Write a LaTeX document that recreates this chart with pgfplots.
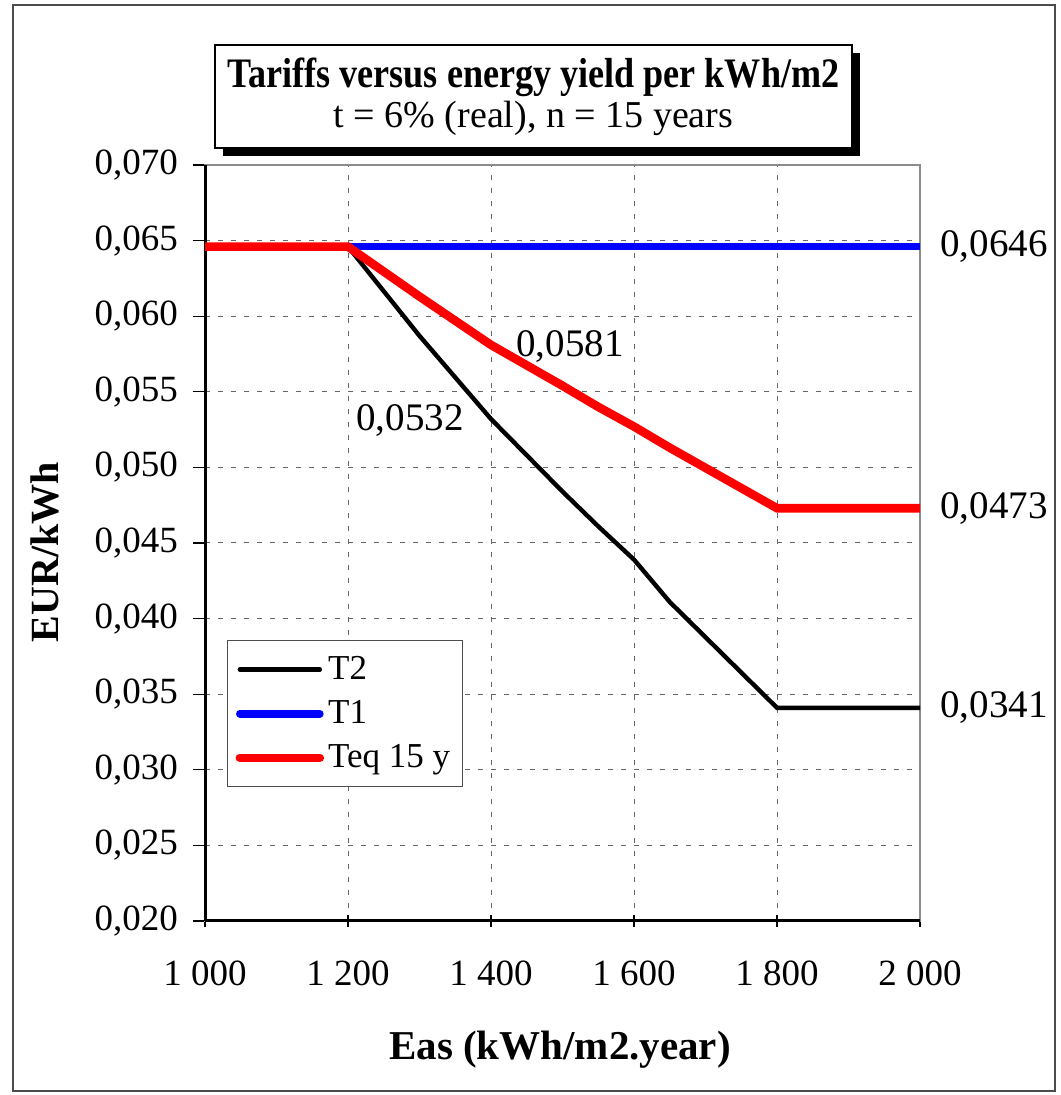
\documentclass[border=0pt]{standalone}
\usepackage{fontspec}
\setmainfont{Liberation Serif}
\newfontfamily\titlefont{Liberation Serif}[FakeStretch=0.86]
\usepackage{pgfplots}
\pgfplotsset{compat=1.18}

\pgfplotstableread{
x y
1000 0.0646
1200 0.0646
1300 0.0587
1400 0.0532
1500 0.0484
1550 0.0461
1600 0.0439
1650 0.0411
1800 0.0341
2000 0.0341
}\tTwo

\pgfplotstableread{
x y
1000 0.0646
2000 0.0646
}\tOne

\pgfplotstableread{
x y
1000 0.0646
1200 0.0646
1300 0.0613
1350 0.0597
1400 0.0581
1500 0.0554
1550 0.0540
1600 0.0527
1650 0.0513
1800 0.0473
2000 0.0473
}\tEq

\newcommand{\lab}{\fontsize{19.5}{23}\selectfont}

\begin{document}
\begin{tikzpicture}[x=1pt,y=1pt]
\useasboundingbox (0,0) rectangle (530,547.5);
\draw[black!70, line width=0.6pt] (6.5,2) rectangle (527.5,545);

% title box with shadow
\fill[black] (111.5,469.5) rectangle (430,521);
\draw[fill=white, line width=1pt] (107.5,473.5) rectangle (426,525);
\node[font=\titlefont\fontsize{21}{24}\selectfont\bfseries] at (266.75,509) {Tariffs versus energy yield per kWh/m2};
\node[font=\fontsize{19}{22}\selectfont] at (266.75,488.5) {t = 6\% (real), n = 15 years};

% axis labels
\node[rotate=90, font=\fontsize{20}{24}\selectfont\bfseries] at (22.5,271.5) {EUR/kWh};
\node[font=\fontsize{20.5}{24}\selectfont\bfseries] at (280,22.5) {Eas (kWh/m2.year)};

\begin{axis}[
  at={(102.5pt,87pt)}, anchor=south west,
  scale only axis, width=357.5pt, height=378pt,
  xmin=1000, xmax=2000, ymin=0.02, ymax=0.07,
  xtick={1000,1200,1400,1600,1800,2000},
  ytick={0.020,0.025,0.030,0.035,0.040,0.045,0.050,0.055,0.060,0.065,0.070},
  scaled y ticks=false,
  xtick pos=bottom, ytick pos=left,
  tick align=outside, major tick length=6pt,
  xtick style={yshift=3pt, black, line width=0.6pt},
  ytick style={black, line width=0.6pt},
  /pgf/number format/assume math mode=true,
  ticklabel style={font=\fontsize{18.5}{22}\selectfont},
  yticklabel style={xshift=-4pt, /pgf/number format/.cd, fixed, fixed zerofill, precision=3, use comma},
  xticklabel style={yshift=-10.5pt, /pgf/number format/.cd, fixed, 1000 sep={\ }},
  grid=major,
  major grid style={black!60, line width=0.5pt, dash pattern=on 2.5pt off 4pt},
  axis line style={black!45, line width=0.8pt},
  clip=false,
  legend style={at={(rel axis cs:0.0308,0.3717)}, anchor=north west,
    draw=black!70, line width=0.5pt, font=\fontsize{17.5}{21}\selectfont,
    row sep=5pt, inner xsep=4pt, inner ysep=6pt},
  legend cell align=left,
  legend image code/.code={\draw[#1, line cap=round] (0pt,0pt) -- (40pt,0pt);},
]
\draw[black, line width=1.5pt] (rel axis cs:0,0) -- (rel axis cs:0,1);
\draw[black, line width=1.5pt] (rel axis cs:0,0) -- (rel axis cs:1,0);
\addplot[black, line width=2.2pt] table {\tTwo};
\addlegendentry{T2}
\addplot[blue, line width=3.8pt] table {\tOne};
\addlegendentry{T1}
\addplot[red, line width=4.3pt] table {\tEq};
\addlegendentry{Teq 15 y}

\node[anchor=west, inner sep=0pt, xshift=10pt, font=\lab] at (axis cs:2000,0.0646) {0,0646};
\node[anchor=west, inner sep=0pt, xshift=10pt, font=\lab] at (axis cs:2000,0.0473) {0,0473};
\node[anchor=west, inner sep=0pt, xshift=10pt, font=\lab] at (axis cs:2000,0.0341) {0,0341};
\node[anchor=west, inner sep=0pt, xshift=12.5pt, yshift=-1pt, font=\lab] at (axis cs:1400,0.0581) {0,0581};
\node[anchor=east, inner sep=0pt, xshift=-13.5pt, yshift=-1pt, font=\lab] at (axis cs:1400,0.0532) {0,0532};
\end{axis}
\end{tikzpicture}
\end{document}
